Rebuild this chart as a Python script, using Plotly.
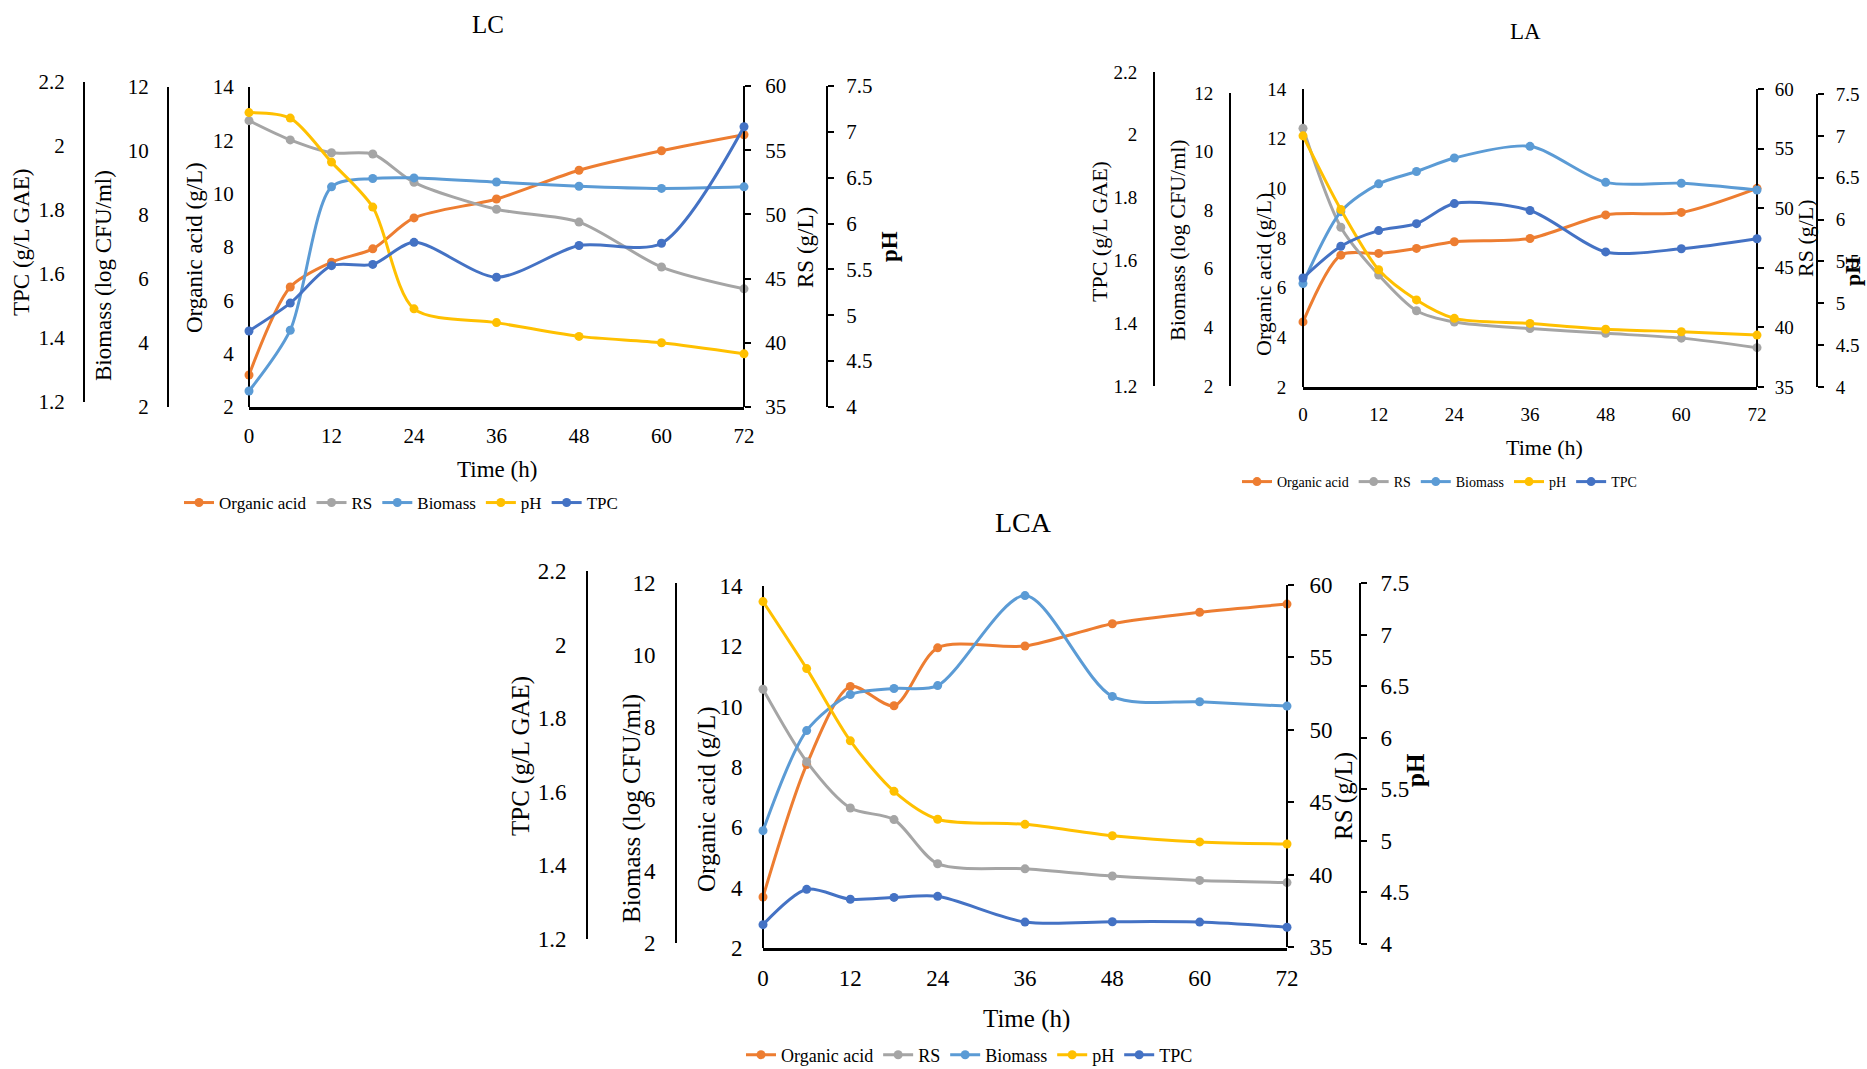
import plotly.graph_objects as go

W, H = 1867, 1069
FONT = "Liberation Serif"

# Sampling times (h) and x-axis ticks
time_h = [0, 6, 12, 18, 24, 36, 48, 60, 72]
time_ticks = [0, 12, 24, 36, 48, 60, 72]

# LC fermentation
lc_organic_acid = [3.2, 6.5, 7.43, 7.93, 9.09, 9.8, 10.88, 11.61, 12.21]
lc_rs = [57.3, 55.8, 54.8, 54.7, 52.5, 50.4, 49.4, 45.9, 44.2]
lc_biomass = [2.5, 4.4, 8.88, 9.14, 9.16, 9.03, 8.9, 8.83, 8.88]
lc_ph = [7.21, 7.15, 6.67, 6.18, 5.07, 4.92, 4.77, 4.70, 4.58]
lc_tpc = [1.422, 1.509, 1.626, 1.630, 1.699, 1.590, 1.689, 1.696, 2.06]

# LA fermentation
la_organic_acid = [4.62, 7.31, 7.38, 7.58, 7.85, 7.98, 8.93, 9.03, 10.0]
la_rs = [56.7, 48.4, 44.4, 41.4, 40.45, 39.9, 39.5, 39.1, 38.3]
la_biomass = [5.5, 7.95, 8.9, 9.32, 9.78, 10.18, 8.95, 8.92, 8.69]
la_ph = [7.0, 6.12, 5.40, 5.04, 4.82, 4.76, 4.69, 4.66, 4.62]
la_tpc = [1.544, 1.645, 1.695, 1.717, 1.781, 1.759, 1.627, 1.637, 1.669]

# LCA fermentation
lca_organic_acid = [3.69, 8.08, 10.67, 10.03, 11.95, 12.01, 12.75, 13.13, 13.4]
lca_rs = [52.8, 47.8, 44.6, 43.8, 40.75, 40.4, 39.9, 39.6, 39.45]
lca_biomass = [5.12, 7.9, 8.9, 9.07, 9.15, 11.65, 8.85, 8.7, 8.58]
lca_ph = [7.32, 6.67, 5.97, 5.48, 5.21, 5.16, 5.05, 4.99, 4.97]
lca_tpc = [1.239, 1.335, 1.308, 1.313, 1.316, 1.246, 1.247, 1.246, 1.232]

series_names = ["Organic acid", "RS", "Biomass", "pH", "TPC"]
series_colors = ["#ED7D31", "#A5A5A5", "#5B9BD5", "#FFC000", "#4472C4"]
axis_titles = ["Organic acid (g/L)", "RS (g/L)", "Biomass (log CFU/ml)", "<b>pH</b>", "TPC (g/L GAE)"]

# (min, max, step) of each measurement axis, same order as series_names
axis_scales = [(2, 14, 2), (35, 60, 5), (2, 12, 2), (4, 7.5, 0.5), (1.2, 2.2, 0.2)]
axis_sides = ["left", "right", "left", "right", "left"]

panels = [
    dict(
        name="LC",
        data=[lc_organic_acid, lc_rs, lc_biomass, lc_ph, lc_tpc],
        # per axis: (x of axis line, top px, bottom px)
        axes=[(249, 87, 407), (744, 86, 407), (168, 87, 407), (827, 86, 407), (84, 82, 402)],
        standoff=[10, 10, 14, 8, 14],
        titles=[(194, 248), (805, 248), (103, 276), (889, 247), (22, 243)],
        title=(488, 24, 25),
        xtitle=(497, 470),
        legend=(185, 503, 17),
        tick_font=21, title_font=23,
    ),
    dict(
        name="LA",
        data=[la_organic_acid, la_rs, la_biomass, la_ph, la_tpc],
        axes=[(1303, 89, 387), (1757, 89, 387), (1230, 93, 386), (1817, 94, 387), (1154, 72, 386)],
        standoff=[12, 7, 12, 8, 12],
        titles=[(1263, 275), (1805, 238), (1178, 240), (1853, 272), (1099, 232)],
        title=(1525, 31, 23),
        xtitle=(1544, 447),
        legend=(1243, 482, 14),
        tick_font=19, title_font=22,
    ),
    dict(
        name="LCA",
        data=[lca_organic_acid, lca_rs, lca_biomass, lca_ph, lca_tpc],
        axes=[(763, 586, 948), (1287, 585, 947), (676, 583, 943), (1360, 583, 944), (587, 571, 939)],
        standoff=[15, 11, 15, 9, 15],
        titles=[(707, 799), (1344, 796), (632, 809), (1415, 770), (521, 756)],
        title=(1023, 522, 28),
        xtitle=(1026, 1019),
        legend=(747, 1055, 18),
        tick_font=23, title_font=25,
    ),
]


def fmt(v):
    return f"{v:g}"


def tick_values(lo, hi, step):
    n = int(round((hi - lo) / step))
    return [round(lo + i * step, 4) for i in range(n + 1)]


fig = go.Figure()
layout = dict(annotations=[])

for p, panel in enumerate(panels):
    xname = "x" if p == 0 else f"x{p + 1}"
    xkey = "xaxis" if p == 0 else f"xaxis{p + 1}"
    lname = "legend" if p == 0 else f"legend{p + 1}"
    fs = panel["tick_font"]
    oa_x, oa_top, oa_bot = panel["axes"][0]
    rs_x = panel["axes"][1][0]

    for j in range(5):
        n = p * 5 + j + 1
        yname = "y" if n == 1 else f"y{n}"
        ykey = "yaxis" if n == 1 else f"yaxis{n}"
        ax_x, top, bot = panel["axes"][j]
        lo, hi, step = axis_scales[j]
        vals = tick_values(lo, hi, step)
        side = axis_sides[j]
        has_ticks = j in (1, 3)
        layout[ykey] = dict(
            domain=[1 - bot / H, 1 - top / H],
            range=[lo, hi],
            anchor="free",
            position=ax_x / W,
            side=side,
            showline=True,
            linecolor="black",
            linewidth=2,
            showgrid=False,
            zeroline=False,
            automargin=False,
            tickmode="array",
            tickvals=vals,
            ticktext=[fmt(v) for v in vals],
            ticks="outside" if has_ticks else "",
            ticklen=6,
            tickwidth=1.5,
            tickcolor="black",
            ticklabelstandoff=panel["standoff"][j],
            tickfont=dict(family=FONT, size=fs, color="black"),
            fixedrange=True,
        )
        fig.add_trace(go.Scatter(
            x=time_h,
            y=panel["data"][j],
            name=series_names[j],
            mode="lines+markers",
            line=dict(color=series_colors[j], width=3, shape="spline", smoothing=0.8),
            marker=dict(color=series_colors[j], size=9),
            xaxis=xname,
            yaxis=yname,
            legend=lname,
            cliponaxis=False,
        ))
        tx, ty = panel["titles"][j]
        layout["annotations"].append(dict(
            text=axis_titles[j], x=tx / W, y=1 - ty / H, xref="paper", yref="paper",
            showarrow=False, textangle=-90, xanchor="center", yanchor="middle",
            font=dict(family=FONT, size=panel["title_font"], color="black"),
        ))

    layout[xkey] = dict(
        domain=[oa_x / W, rs_x / W],
        range=[0, 72],
        anchor="y" if p == 0 else f"y{p * 5 + 1}",
        showline=True,
        linecolor="black",
        linewidth=2.5,
        showgrid=False,
        zeroline=False,
        automargin=False,
        tickmode="array",
        tickvals=time_ticks,
        ticktext=[str(t) for t in time_ticks],
        ticks="",
        ticklabelstandoff=8,
        tickfont=dict(family=FONT, size=fs, color="black"),
        fixedrange=True,
    )

    cx, cy, cs = panel["title"]
    layout["annotations"].append(dict(
        text=panel["name"], x=cx / W, y=1 - cy / H, xref="paper", yref="paper",
        showarrow=False, xanchor="center", yanchor="middle",
        font=dict(family=FONT, size=cs, color="black"),
    ))
    xx, xy = panel["xtitle"]
    layout["annotations"].append(dict(
        text="Time (h)", x=xx / W, y=1 - xy / H, xref="paper", yref="paper",
        showarrow=False, xanchor="center", yanchor="middle",
        font=dict(family=FONT, size=panel["title_font"], color="black"),
    ))
    lx, ly, lfs = panel["legend"]
    layout[lname] = dict(
        x=(lx - 6) / W, y=1 - ly / H, xanchor="left", yanchor="middle",
        orientation="h", bgcolor="rgba(0,0,0,0)", traceorder="normal",
        font=dict(family=FONT, size=lfs, color="black"),
        itemwidth=30,
    )

fig.update_layout(
    width=W, height=H, autosize=False,
    margin=dict(l=0, r=0, t=0, b=0, autoexpand=False),
    paper_bgcolor="white", plot_bgcolor="rgba(0,0,0,0)",
    font=dict(family=FONT, color="black"),
    **layout,
)

fig.write_html("out.html")
